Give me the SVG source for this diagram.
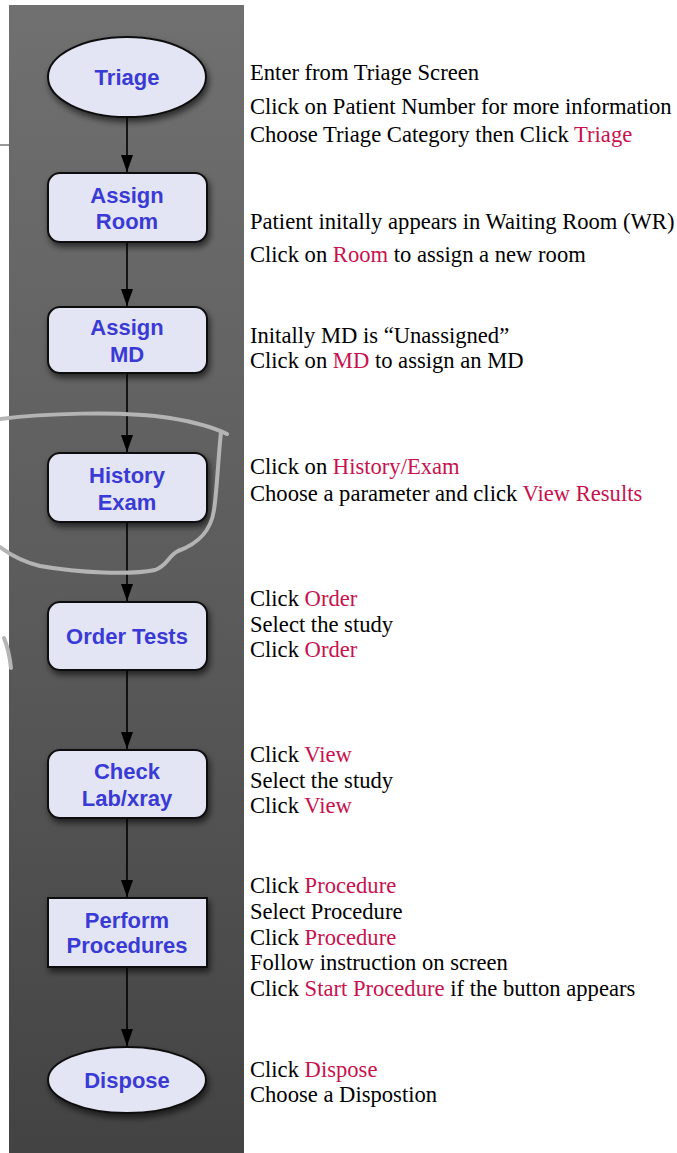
<svg xmlns="http://www.w3.org/2000/svg" width="677" height="1153" viewBox="0 0 677 1153">
<style>
.node{fill:#e3e5f4;stroke:#111;stroke-width:2;filter:url(#sh)}
.lbl{font-family:"Liberation Sans",Arial,sans-serif;font-weight:bold;font-size:22px;fill:#3a3ad6;text-anchor:middle}
.conn{stroke:#000;stroke-width:1.6;fill:none;marker-end:url(#ah)}
.t{font-family:"Liberation Serif","Times New Roman",serif;font-size:22.6px;fill:#000}
.r{fill:#c8124e}
.pen{fill:none;stroke:#b4b4b4;stroke-width:4;stroke-linecap:round;stroke-linejoin:round}
</style>
<defs>
<linearGradient id="bg" x1="0" y1="0" x2="0" y2="1">
<stop offset="0" stop-color="#707070"/>
<stop offset="0.5" stop-color="#5c5c5c"/>
<stop offset="1" stop-color="#434343"/>
</linearGradient>
<filter id="sh" x="-20%" y="-20%" width="140%" height="160%">
<feDropShadow dx="2" dy="4" stdDeviation="3" flood-color="#000" flood-opacity="0.6"/>
</filter>
<marker id="ah" viewBox="0 0 17 12" refX="17" refY="6" markerWidth="17" markerHeight="12" markerUnits="userSpaceOnUse" orient="auto">
<path d="M0,0 L17,6 L0,12 z" fill="#000"/>
</marker>
</defs>
<rect x="0" y="0" width="677" height="1153" fill="#fff"/>
<rect x="9" y="5" width="235" height="1148" fill="url(#bg)"/>
<line x1="0" y1="145" x2="9" y2="145" stroke="#555" stroke-width="1.2"/>

<g id="connectors">
<line class="conn" x1="127" y1="118" x2="127" y2="172"/>
<line class="conn" x1="127" y1="242" x2="127" y2="306"/>
<line class="conn" x1="127" y1="373" x2="127" y2="452"/>
<line class="conn" x1="127" y1="522" x2="127" y2="601"/>
<line class="conn" x1="127" y1="670" x2="127" y2="749"/>
<line class="conn" x1="127" y1="818" x2="127" y2="897"/>
<line class="conn" x1="127" y1="967" x2="127" y2="1046"/>
</g>

<g id="n-triage">
<ellipse class="node" cx="127" cy="77" rx="79" ry="40"/>
<text class="lbl" x="127" y="85">Triage</text>
</g>
<g id="n-room">
<rect class="node" x="48" y="173" width="159" height="69" rx="12"/>
<text class="lbl" x="127" y="203">Assign</text>
<text class="lbl" x="127" y="229">Room</text>
</g>
<g id="n-md">
<rect class="node" x="48" y="307" width="159" height="66" rx="12"/>
<text class="lbl" x="127" y="335">Assign</text>
<text class="lbl" x="127" y="362">MD</text>
</g>
<g id="n-history">
<rect class="node" x="48" y="453" width="159" height="69" rx="12"/>
<text class="lbl" x="127" y="483">History</text>
<text class="lbl" x="127" y="510">Exam</text>
</g>
<g id="n-order">
<rect class="node" x="48" y="602" width="159" height="68" rx="12"/>
<text class="lbl" x="127" y="644">Order Tests</text>
</g>
<g id="n-check">
<rect class="node" x="48" y="750" width="159" height="68" rx="12"/>
<text class="lbl" x="127" y="779">Check</text>
<text class="lbl" x="127" y="806">Lab/xray</text>
</g>
<g id="n-perform">
<rect class="node" x="48" y="898" width="159" height="69"/>
<text class="lbl" x="127" y="928">Perform</text>
<text class="lbl" x="127" y="953">Procedures</text>
</g>
<g id="n-dispose">
<ellipse class="node" cx="127" cy="1080" rx="79" ry="33"/>
<text class="lbl" x="127" y="1088">Dispose</text>
</g>

<g id="pen-marks">
<path class="pen" d="M0,419 C40,414 120,410 170,418 C200,423 215,428 227,434"/>
<path class="pen" d="M221,432 C218,460 217,490 214,510 C211,530 200,543 178,551 C168,556 168,565 155,570 C130,575 80,573 40,566 C20,561 8,553 0,547"/>
<path class="pen" d="M4,638 Q9,650 11,668"/>
</g>

<g id="notes">
<text class="t" x="250" y="80">Enter from Triage Screen</text>
<text class="t" x="250" y="114">Click on Patient Number for more information</text>
<text class="t" x="250" y="142">Choose Triage Category then Click <tspan class="r">Triage</tspan></text>
<text class="t" x="250" y="229">Patient initally appears in Waiting Room (WR)</text>
<text class="t" x="250" y="262">Click on <tspan class="r">Room</tspan> to assign a new room</text>
<text class="t" x="250" y="343">Initally MD is “Unassigned”</text>
<text class="t" x="250" y="368">Click on <tspan class="r">MD</tspan> to assign an MD</text>
<text class="t" x="250" y="474">Click on <tspan class="r">History/Exam</tspan></text>
<text class="t" x="250" y="501">Choose a parameter and click <tspan class="r">View Results</tspan></text>
<text class="t" x="250" y="606">Click <tspan class="r">Order</tspan></text>
<text class="t" x="250" y="632">Select the study</text>
<text class="t" x="250" y="657">Click <tspan class="r">Order</tspan></text>
<text class="t" x="250" y="762">Click <tspan class="r">View</tspan></text>
<text class="t" x="250" y="788">Select the study</text>
<text class="t" x="250" y="813">Click <tspan class="r">View</tspan></text>
<text class="t" x="250" y="893">Click <tspan class="r">Procedure</tspan></text>
<text class="t" x="250" y="919">Select Procedure</text>
<text class="t" x="250" y="945">Click <tspan class="r">Procedure</tspan></text>
<text class="t" x="250" y="970">Follow instruction on screen</text>
<text class="t" x="250" y="996">Click <tspan class="r">Start Procedure</tspan> if the button appears</text>
<text class="t" x="250" y="1077">Click <tspan class="r">Dispose</tspan></text>
<text class="t" x="250" y="1102">Choose a Dispostion</text>
</g>
</svg>
